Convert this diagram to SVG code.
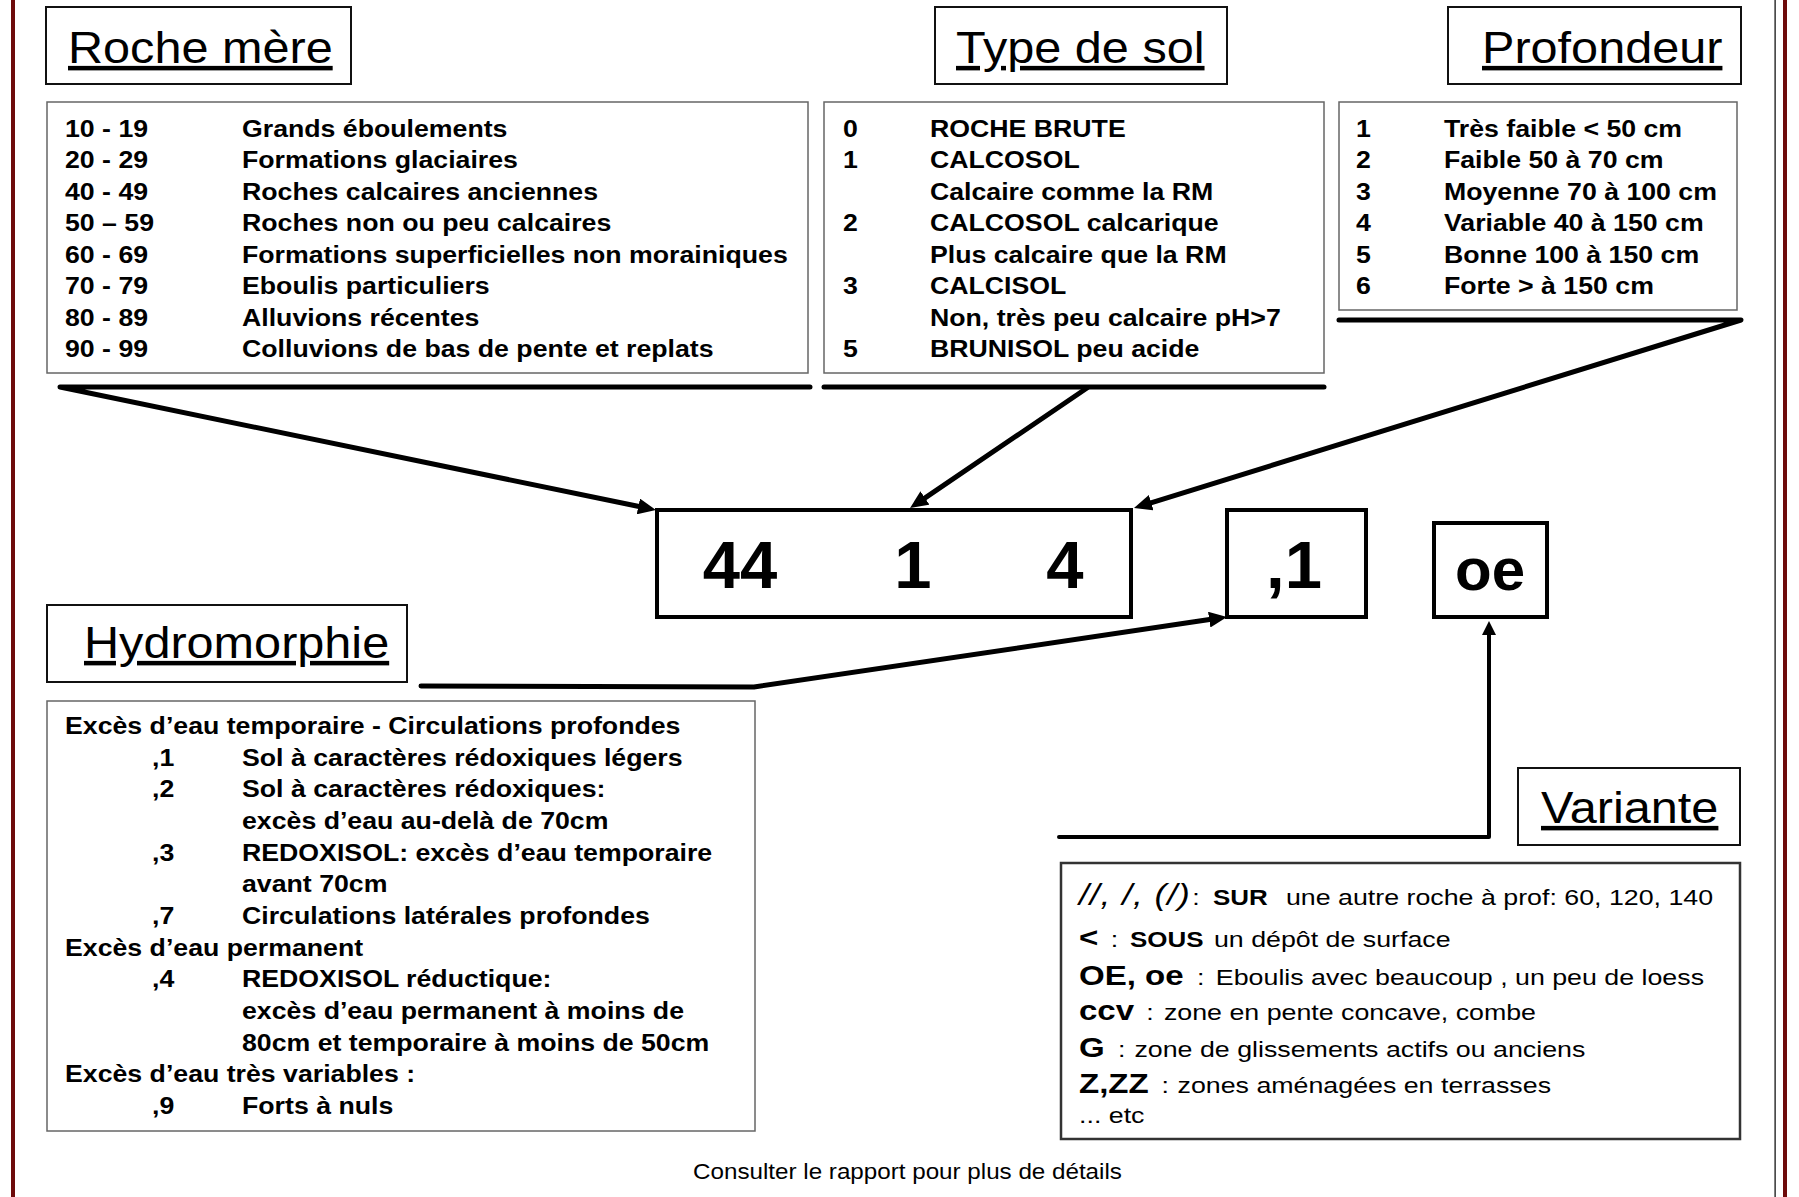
<svg xmlns="http://www.w3.org/2000/svg" width="1799" height="1197" viewBox="0 0 1799 1197">
<style>
text{font-family:"Liberation Sans",Arial,sans-serif;fill:#000}
.title{font-size:45px;text-decoration:underline}
.tbox{fill:#fff;stroke:#111;stroke-width:2}
.cbox{fill:#fff;stroke:#666;stroke-width:1.5}
.vbox{fill:#fff;stroke:#333;stroke-width:2.5}
.code{fill:#fff;stroke:#000;stroke-width:4}
.body{font-size:24.5px;font-weight:bold}
.big{font-size:67px;font-weight:bold}
.vr{font-size:22.7px}
.vb{font-size:28px;font-weight:bold}
.vs{font-size:22px;font-weight:bold}
.conn{fill:none;stroke:#000;stroke-width:5;stroke-linecap:round;stroke-linejoin:round}
</style>
<defs>
<marker id="ah" viewBox="0 0 18 16" refX="2" refY="8" markerWidth="18" markerHeight="16" markerUnits="userSpaceOnUse" orient="auto">
<path d="M0,0 L18,8 L0,16 z" fill="#000"/>
</marker>
<marker id="ahs" viewBox="0 0 14 14" refX="2" refY="7" markerWidth="14" markerHeight="14" markerUnits="userSpaceOnUse" orient="auto">
<path d="M0,0 L14,7 L0,14 z" fill="#000"/>
</marker>
</defs>
<rect width="1799" height="1197" fill="#fff"/>
<g id="frame">
<rect x="11" y="0" width="4" height="1197" fill="#6e0b0b"/>
<rect x="1774.5" y="0" width="1.2" height="1197" fill="#000"/>
<rect x="1783" y="0" width="4" height="1197" fill="#6e0b0b"/>
</g>

<g id="connectors">
<path class="conn" d="M810,387 L60,387 L640.3,506.8" marker-end="url(#ah)"/>
<path class="conn" d="M824,387 L1324,387"/>
<path class="conn" d="M1087,388 L923.3,499.1" marker-end="url(#ah)"/>
<path class="conn" d="M1339,320 L1741,320 L1149.3,503.3" marker-end="url(#ah)"/>
<path class="conn" d="M421,686 L754,687 L1211.2,619.3" marker-end="url(#ah)"/>
<path class="conn" style="stroke-width:4" d="M1059,837 L1489,837 L1489,633" marker-end="url(#ahs)"/>
</g>

<g id="roche-mere-title">
<rect class="tbox" x="46" y="7" width="305" height="77"/>
<text class="title" transform="matrix(1.08,0,0,1,68,63)">Roche mère</text>
</g>
<g id="roche-mere">
<rect class="cbox" x="47" y="102" width="761" height="271"/>
<g class="body" transform="matrix(1.09,0,0,1,65,0)">
<text class="body" x="0" y="137">10 - 19</text><text class="body" x="162.4" y="137">Grands éboulements</text>
<text class="body" x="0" y="168.4">20 - 29</text><text class="body" x="162.4" y="168.4">Formations glaciaires</text>
<text class="body" x="0" y="199.9">40 - 49</text><text class="body" x="162.4" y="199.9">Roches calcaires anciennes</text>
<text class="body" x="0" y="231.3">50 – 59</text><text class="body" x="162.4" y="231.3">Roches non ou peu calcaires</text>
<text class="body" x="0" y="262.7">60 - 69</text><text class="body" x="162.4" y="262.7">Formations superficielles non morainiques</text>
<text class="body" x="0" y="294.1">70 - 79</text><text class="body" x="162.4" y="294.1">Eboulis particuliers</text>
<text class="body" x="0" y="325.6">80 - 89</text><text class="body" x="162.4" y="325.6">Alluvions récentes</text>
<text class="body" x="0" y="357">90 - 99</text><text class="body" x="162.4" y="357">Colluvions de bas de pente et replats</text>
</g>
</g>

<g id="type-de-sol-title">
<rect class="tbox" x="935" y="7" width="292" height="77"/>
<text class="title" transform="matrix(1.08,0,0,1,956,63)">Type de sol</text>
</g>
<g id="type-de-sol">
<rect class="cbox" x="824" y="102" width="500" height="271"/>
<g transform="matrix(1.09,0,0,1,843,0)">
<text class="body" x="0" y="137">0</text><text class="body" x="79.8" y="137">ROCHE BRUTE</text>
<text class="body" x="0" y="168.4">1</text><text class="body" x="79.8" y="168.4">CALCOSOL</text>
<text class="body" x="79.8" y="199.9">Calcaire comme la RM</text>
<text class="body" x="0" y="231.3">2</text><text class="body" x="79.8" y="231.3">CALCOSOL calcarique</text>
<text class="body" x="79.8" y="262.7">Plus calcaire que la RM</text>
<text class="body" x="0" y="294.1">3</text><text class="body" x="79.8" y="294.1">CALCISOL</text>
<text class="body" x="79.8" y="325.6">Non, très peu calcaire pH&gt;7</text>
<text class="body" x="0" y="357">5</text><text class="body" x="79.8" y="357">BRUNISOL peu acide</text>
</g>
</g>

<g id="profondeur-title">
<rect class="tbox" x="1448" y="7" width="293" height="77"/>
<text class="title" transform="matrix(1.08,0,0,1,1482,63)">Profondeur</text>
</g>
<g id="profondeur">
<rect class="cbox" x="1339" y="102" width="398" height="208"/>
<g transform="matrix(1.09,0,0,1,1356,0)">
<text class="body" x="0" y="137">1</text><text class="body" x="80.7" y="137">Très faible &lt; 50 cm</text>
<text class="body" x="0" y="168.4">2</text><text class="body" x="80.7" y="168.4">Faible 50 à 70 cm</text>
<text class="body" x="0" y="199.9">3</text><text class="body" x="80.7" y="199.9">Moyenne 70 à 100 cm</text>
<text class="body" x="0" y="231.3">4</text><text class="body" x="80.7" y="231.3">Variable 40 à 150 cm</text>
<text class="body" x="0" y="262.7">5</text><text class="body" x="80.7" y="262.7">Bonne 100 à 150 cm</text>
<text class="body" x="0" y="294.1">6</text><text class="body" x="80.7" y="294.1">Forte &gt; à 150 cm</text>
</g>
</g>

<g id="code-main">
<rect class="code" x="657" y="510" width="474" height="107"/>
<text class="big" x="740" y="588" text-anchor="middle">44</text>
<text class="big" x="913" y="588" text-anchor="middle">1</text>
<text class="big" x="1065" y="588" text-anchor="middle">4</text>
</g>
<g id="code-hydro">
<rect class="code" x="1227" y="510" width="139" height="107"/>
<text class="big" x="1294" y="588" text-anchor="middle">,1</text>
</g>
<g id="code-variante">
<rect class="code" x="1434" y="523" width="113" height="94"/>
<text class="big" style="font-size:60px" x="1490" y="590" text-anchor="middle">oe</text>
</g>

<g id="hydromorphie-title">
<rect class="tbox" x="47" y="605" width="360" height="77"/>
<text class="title" transform="matrix(1.08,0,0,1,84,658)">Hydromorphie</text>
</g>
<g id="hydromorphie">
<rect class="cbox" x="47" y="701" width="708" height="430"/>
<g transform="matrix(1.09,0,0,1,65,0)">
<text class="body" x="0" y="734">Excès d’eau temporaire - Circulations profondes</text>
<text class="body" x="79.8" y="765.7">,1</text><text class="body" x="162.4" y="765.7">Sol à caractères rédoxiques légers</text>
<text class="body" x="79.8" y="797.3">,2</text><text class="body" x="162.4" y="797.3">Sol à caractères rédoxiques:</text>
<text class="body" x="162.4" y="829">excès d’eau au-delà de 70cm</text>
<text class="body" x="79.8" y="860.7">,3</text><text class="body" x="162.4" y="860.7">REDOXISOL: excès d’eau temporaire</text>
<text class="body" x="162.4" y="892.3">avant 70cm</text>
<text class="body" x="79.8" y="924">,7</text><text class="body" x="162.4" y="924">Circulations latérales profondes</text>
<text class="body" x="0" y="955.7">Excès d’eau permanent</text>
<text class="body" x="79.8" y="987.3">,4</text><text class="body" x="162.4" y="987.3">REDOXISOL réductique:</text>
<text class="body" x="162.4" y="1019">excès d’eau permanent à moins de</text>
<text class="body" x="162.4" y="1050.7">80cm et temporaire à moins de 50cm</text>
<text class="body" x="0" y="1082.3">Excès d’eau très variables :</text>
<text class="body" x="79.8" y="1114">,9</text><text class="body" x="162.4" y="1114">Forts à nuls</text>
</g>
</g>

<g id="variante-title">
<rect class="tbox" x="1518" y="768" width="222" height="77"/>
<text class="title" transform="matrix(1.08,0,0,1,1541,823)">Variante</text>
</g>
<g id="variante">
<rect class="vbox" x="1061" y="863" width="679" height="276"/>
<g transform="matrix(1.18,0,0,1,1079,0)">
<text x="0" y="905" style="font-size:30px;font-style:italic" textLength="94" lengthAdjust="spacing">//, /, (/)</text>
<text class="vr" x="96" y="905">:</text>
<text class="vs" x="113.6" y="905">SUR</text>
<text class="vr" x="175.4" y="905">une autre roche à  prof: 60, 120, 140</text>
<text class="vb" x="0" y="947">&lt;</text>
<text class="vr" x="27" y="947">:</text>
<text class="vs" x="43.2" y="947">SOUS</text>
<text class="vr" x="114.4" y="947">un dépôt de surface</text>
<text class="vb" x="0" y="985">OE, oe</text>
<text class="vr" x="100" y="985">:</text>
<text class="vr" x="116" y="985">Eboulis avec beaucoup , un peu de loess</text>
<text class="vb" x="0" y="1020">ccv</text>
<text class="vr" x="57" y="1020">:</text>
<text class="vr" x="72" y="1020">zone en pente concave, combe</text>
<text class="vb" x="0" y="1057">G</text>
<text class="vr" x="33" y="1057">:</text>
<text class="vr" x="47" y="1057">zone de glissements actifs ou anciens</text>
<text class="vb" x="0" y="1093">Z,ZZ</text>
<text class="vr" x="70" y="1093">:</text>
<text class="vr" x="83.5" y="1093">zones aménagées en terrasses</text>
<text class="vr" x="0" y="1123">... etc</text>
</g>
</g>

<g id="footer">
<text style="font-size:22px" text-anchor="middle" transform="matrix(1.1,0,0,1,907.5,1179)">Consulter le rapport pour plus de détails</text>
</g>
</svg>
